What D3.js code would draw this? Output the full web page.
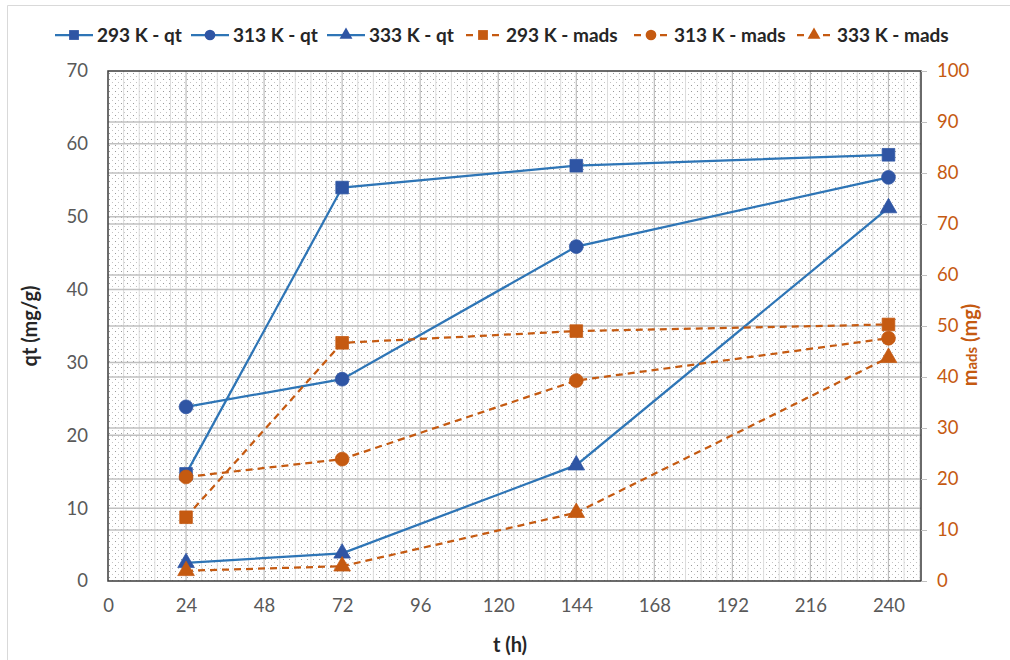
<!DOCTYPE html>
<html><head><meta charset="utf-8">
<script src="https://cdn.jsdelivr.net/npm/d3@7"></script>
<style>body{margin:0;background:#fff;}svg{font-family:Lato, "Open Sans", sans-serif;}</style>
</head><body><svg id="c" width="1010" height="660"></svg>
<script>
const times = [24, 72, 144, 240];
const qt293 = [14.7, 54.0, 57.0, 58.5];
const qt313 = [23.9, 27.7, 45.9, 55.4];
const qt333 = [2.5, 3.8, 15.9, 51.2];
const mads293 = [12.5, 46.7, 49.0, 50.3];
const mads313 = [20.4, 23.9, 39.3, 47.6];
const mads333 = [2.0, 2.9, 13.4, 43.8];
const xTicks = [0, 24, 48, 72, 96, 120, 144, 168, 192, 216, 240];
const yLeftTicks = [0, 10, 20, 30, 40, 50, 60, 70];
const yRightTicks = [0, 10, 20, 30, 40, 50, 60, 70, 80, 90, 100];
const seriesNames = ["293 K - qt", "313 K - qt", "333 K - qt", "293 K - mads", "313 K - mads", "333 K - mads"];

const blueLine = "#2E75B6", blueMark = "#2F55A4", orange = "#C55A11";
const svg = d3.select("#c");
const L = 108, R = 921, T = 71, B = 581;
const x = d3.scaleLinear().domain([0, 250]).range([L, R]);
const yL = d3.scaleLinear().domain([0, 70]).range([B, T]);
const yR = d3.scaleLinear().domain([0, 100]).range([B, T]);

// chart border
svg.append("path").attr("d", `M7.5,660 V5.5 H1010`).attr("fill", "none").attr("stroke", "#d9d9d9");

const defs = svg.append("defs");
const pat = defs.append("pattern").attr("id", "dots").attr("patternUnits", "userSpaceOnUse").attr("width", 6).attr("height", 6);
pat.append("rect").attr("width", 6).attr("height", 6).attr("fill", "#fff");
pat.append("rect").attr("x", 1).attr("y", 1).attr("width", 1).attr("height", 1).attr("fill", "#9a9a9a");
pat.append("rect").attr("x", 4).attr("y", 4).attr("width", 1).attr("height", 1).attr("fill", "#c4c4c4");
svg.append("rect").attr("x", L).attr("y", T).attr("width", R - L).attr("height", B - T).attr("fill", "url(#dots)");

// minor vertical gridlines
const minor = d3.range(0, 251, 4.8).filter(v => Math.abs(v / 24 - Math.round(v / 24)) > 1e-6);
svg.append("g").selectAll("line").data(minor).join("line")
  .attr("x1", d => x(d)).attr("x2", d => x(d)).attr("y1", T).attr("y2", B)
  .attr("stroke", "#dcdcdc").attr("stroke-width", 1);
// major vertical gridlines
svg.append("g").selectAll("line").data(xTicks.slice(1)).join("line")
  .attr("x1", d => x(d)).attr("x2", d => x(d)).attr("y1", T).attr("y2", B)
  .attr("stroke", "#bdbdbd").attr("stroke-width", 1.2);
// horizontal gridlines (both axes)
svg.append("g").selectAll("line").data(yLeftTicks.slice(1, -1)).join("line")
  .attr("x1", L).attr("x2", R).attr("y1", d => yL(d)).attr("y2", d => yL(d))
  .attr("stroke", "#c0c0c0").attr("stroke-width", 1.5);
svg.append("g").selectAll("line").data(yRightTicks.slice(1, -1)).join("line")
  .attr("x1", L).attr("x2", R).attr("y1", d => yR(d)).attr("y2", d => yR(d))
  .attr("stroke", "#c0c0c0").attr("stroke-width", 1.5);

// frame
svg.append("rect").attr("x", L).attr("y", T).attr("width", R - L).attr("height", B - T)
  .attr("fill", "none").attr("stroke", "#3a3a3a").attr("stroke-width", 1.5);

// axes
const gx = svg.append("g").attr("transform", `translate(0,${B})`)
  .call(d3.axisBottom(x).tickValues(xTicks).tickSize(0).tickPadding(18));
const gl = svg.append("g").attr("transform", `translate(${L},0)`)
  .call(d3.axisLeft(yL).tickValues(yLeftTicks).tickSize(0).tickPadding(20));
const gr = svg.append("g").attr("transform", `translate(${R},0)`)
  .call(d3.axisRight(yR).tickValues(yRightTicks).tickSize(6).tickPadding(10));
[gx, gl, gr].forEach(g => { g.select(".domain").remove(); g.selectAll("text").attr("font-size", 18.5).attr("font-family", "Lato, sans-serif"); });
gx.selectAll("text").attr("fill", "#595959");
gl.selectAll("text").attr("fill", "#595959");
gr.selectAll("text").attr("fill", orange);
gr.selectAll("line").attr("stroke", "#bfbfbf");

// axis titles
svg.append("text").attr("x", 510).attr("y", 652).attr("text-anchor", "middle")
  .attr("font-size", 20).attr("font-weight", "bold").attr("fill", "#262626").text("t (h)");
svg.append("text").attr("transform", "translate(37,326) rotate(-90)").attr("text-anchor", "middle")
  .attr("font-size", 20).attr("font-weight", "bold").attr("fill", "#262626").text("qt (mg/g)");
const rt = svg.append("text").attr("transform", "translate(977,345) rotate(-90)").attr("text-anchor", "middle")
  .attr("font-size", 20).attr("font-weight", "bold").attr("fill", orange);
rt.append("tspan").text("m");
rt.append("tspan").attr("font-size", 15).text("ads");
rt.append("tspan").text(" (mg)");

// series
const series = [
  {vals: qt293, y: yL, line: blueLine, mark: blueMark, dash: null, shape: "square"},
  {vals: qt313, y: yL, line: blueLine, mark: blueMark, dash: null, shape: "circle"},
  {vals: qt333, y: yL, line: blueLine, mark: blueMark, dash: null, shape: "triangle"},
  {vals: mads293, y: yR, line: orange, mark: orange, dash: "7,5", shape: "square"},
  {vals: mads313, y: yR, line: orange, mark: orange, dash: "7,5", shape: "circle"},
  {vals: mads333, y: yR, line: orange, mark: orange, dash: "7,5", shape: "triangle"},
];
const symType = {square: d3.symbolSquare, circle: d3.symbolCircle, triangle: d3.symbolTriangle};
const symSize = {square: 160, circle: 150, triangle: 120};

series.forEach(s => {
  const data = times.map((t, i) => [t, s.vals[i]]);
  svg.append("path").datum(data)
    .attr("d", d3.line().x(d => x(d[0])).y(d => s.y(d[1])))
    .attr("fill", "none").attr("stroke", s.line).attr("stroke-width", 2.25)
    .attr("stroke-dasharray", s.dash);
});
series.forEach(s => {
  const data = times.map((t, i) => [t, s.vals[i]]);
  svg.append("g").selectAll("path").data(data).join("path")
    .attr("transform", d => `translate(${x(d[0])},${s.y(d[1])})`)
    .attr("d", d3.symbol().type(symType[s.shape]).size(symSize[s.shape]))
    .attr("fill", s.mark).attr("stroke", s.mark).attr("stroke-width", 0.75);
});

// legend
const legX = [55, 191, 327, 464, 632, 795];
const lg = svg.append("g");
series.forEach((s, i) => {
  const x0 = legX[i], y0 = 35;
  lg.append("line").attr("x1", x0).attr("x2", x0 + 38).attr("y1", y0).attr("y2", y0)
    .attr("stroke", s.line).attr("stroke-width", 2.25).attr("stroke-dasharray", s.dash ? "7,6" : null)
    .attr("stroke-dashoffset", s.dash ? -2 : 0);
  lg.append("path").attr("transform", `translate(${x0 + 19},${y0})`)
    .attr("d", d3.symbol().type(symType[s.shape]).size(symSize[s.shape] * 0.6))
    .attr("fill", s.mark);
  lg.append("text").attr("x", x0 + 42).attr("y", y0 + 6.5).attr("font-size", 19)
    .attr("font-weight", "bold").attr("fill", "#262626").text(seriesNames[i]);
});
</script></body></html>
